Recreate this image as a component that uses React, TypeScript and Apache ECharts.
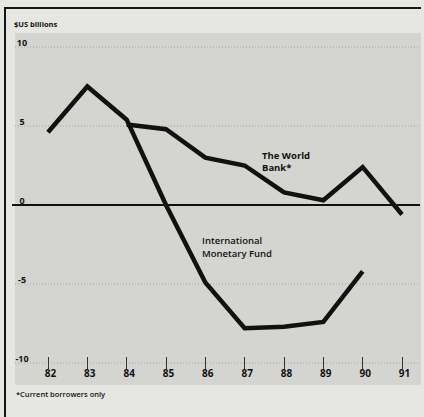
import React, { useEffect, useRef } from "react";
import * as echarts from "echarts";

const years = ["82", "83", "84", "85", "86", "87", "88", "89", "90", "91"];
const imfValues = [4.6, 7.5, 5.4, 0.0, -4.9, -7.8, -7.7, -7.4, -4.2, null];
const worldBankValues = [null, null, 5.1, 4.8, 3.0, 2.5, 0.8, 0.3, 2.4, -0.6];
const yTicks = [-10, -5, 0, 5, 10];
const yMin = -10;
const yMax = 10;
const yStep = 5;

const FONT = "'Open Sans', 'DejaVu Sans', sans-serif";

export default function App() {
  const ref = useRef<HTMLDivElement>(null);
  useEffect(() => {
    if (!ref.current) return;
    const chart = echarts.init(ref.current, null, { renderer: "svg" });
    const lineStyle = { color: "#111", width: 4.5, join: "miter" as const };
    chart.setOption({
      animation: false,
      backgroundColor: "#e6e7e3",
      grid: { left: 48, right: 22, top: 47, bottom: 54, containLabel: false },
      xAxis: [
        {
          type: "category",
          data: years,
          boundaryGap: false,
          position: "bottom",
          axisLine: { show: false },
          axisTick: { show: false },
          axisLabel: {
            color: "#111",
            fontFamily: FONT,
            fontWeight: "bold",
            fontSize: 10,
            margin: 5,
            padding: [0, 0, 0, 5],
          },
          splitLine: { show: false },
        },
        {
          type: "category",
          data: years,
          boundaryGap: false,
          position: "bottom",
          axisLine: { show: false, onZero: true },
          axisTick: { show: true, inside: false, length: 6, lineStyle: { color: "#333", width: 1 } },
          axisLabel: { show: false },
          splitLine: { show: false },
        },
        {
          type: "category",
          data: years,
          boundaryGap: false,
          position: "bottom",
          axisLine: { show: false, onZero: true },
          axisTick: { show: true, inside: true, length: 6, lineStyle: { color: "#333", width: 1 } },
          axisLabel: { show: false },
          splitLine: { show: false },
        },
      ],
      yAxis: {
        type: "value",
        min: yMin,
        max: yMax,
        interval: yStep,
        axisLine: { show: false },
        axisTick: { show: false },
        axisLabel: {
          color: "#111",
          fontFamily: FONT,
          fontWeight: "bold",
          fontSize: 9,
          align: "center",
          verticalAlign: "bottom",
          margin: 26,
        },
        splitLine: { show: false },
      },
      series: [
        {
          name: "International Monetary Fund",
          type: "line",
          data: imfValues,
          symbol: "none",
          lineStyle,
          z: 3,
        },
        {
          name: "The World Bank*",
          type: "line",
          data: worldBankValues,
          symbol: "none",
          lineStyle,
          z: 3,
        },
      ],
    });
    const y0 = chart.convertToPixel({ yAxisIndex: 0 }, 0) as number;
    const gridLines = yTicks
      .filter((v) => v !== 0)
      .map((v) => {
        const y = chart.convertToPixel({ yAxisIndex: 0 }, v) as number;
        return {
          type: "line",
          z: -6,
          silent: true,
          shape: { x1: 15, y1: y, x2: 420, y2: y },
          style: { stroke: "#a4a5a1", lineWidth: 1, lineDash: [1, 2] },
        };
      });
    chart.setOption({
      graphic: [
        {
          type: "rect",
          z: -10,
          silent: true,
          shape: { x: 15, y: 33, width: 406, height: 352 },
          style: { fill: "#d4d5d1" },
        },
        ...gridLines,
        {
          type: "line",
          z: -5,
          silent: true,
          shape: { x1: 4, y1: 8, x2: 421, y2: 8 },
          style: { stroke: "#151515", lineWidth: 2 },
        },
        {
          type: "line",
          z: -5,
          silent: true,
          shape: { x1: 5, y1: 8, x2: 5, y2: 417 },
          style: { stroke: "#151515", lineWidth: 2 },
        },
        {
          type: "line",
          z: 1,
          silent: true,
          shape: { x1: 12, y1: y0, x2: 420, y2: y0 },
          style: { stroke: "#111", lineWidth: 2.2 },
        },
        {
          type: "text",
          x: 14,
          y: 20,
          style: {
            text: "$US billions",
            fontFamily: FONT,
            fontSize: 7.5,
            fontWeight: "bold",
            fill: "#111",
          },
        },
        {
          type: "text",
          x: 262,
          y: 149,
          style: {
            text: "The World\nBank*",
            fontFamily: FONT,
            fontSize: 9.5,
            fontWeight: "bold",
            lineHeight: 12,
            fill: "#111",
          },
        },
        {
          type: "text",
          x: 202,
          y: 234,
          style: {
            text: "International\nMonetary Fund",
            fontFamily: FONT,
            fontSize: 9.5,
            fontWeight: 600,
            lineHeight: 13,
            fill: "#111",
          },
        },
        {
          type: "text",
          x: 16,
          y: 390,
          style: {
            text: "*Current borrowers only",
            fontFamily: FONT,
            fontSize: 7.5,
            fontWeight: 600,
            fill: "#111",
          },
        },
      ],
    });
    return () => chart.dispose();
  }, []);
  return (
    <div
      ref={ref}
      style={{ position: "fixed", left: 0, top: 0, width: 424, height: 417 }}
    />
  );
}
